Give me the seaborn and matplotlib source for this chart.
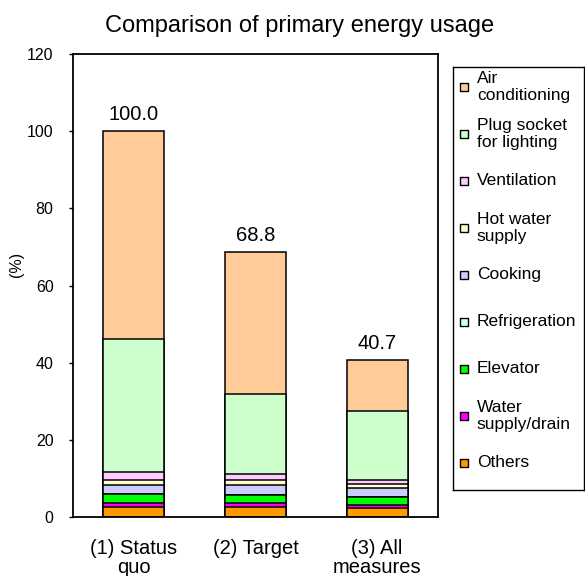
import numpy as np
import pandas as pd
import seaborn as sns
import matplotlib.pyplot as plt

# scenarios on the x axis
scenarios = ["(1) Status\nquo", "(2) Target", "(3) All\nmeasures"]

# end uses, legend order (top of stack first)
uses = ["Air\nconditioning", "Plug socket\nfor lighting", "Ventilation",
        "Hot water\nsupply", "Cooking", "Refrigeration", "Elevator",
        "Water\nsupply/drain", "Others"]

# share of primary energy usage (%) per end use, one value per scenario
air_conditioning = [53.9, 36.9, 13.3]
plug_lighting    = [34.5, 20.7, 17.8]
ventilation      = [2.1, 1.7, 1.1]
hot_water        = [1.2, 1.2, 1.0]
cooking          = [2.3, 2.65, 2.35]
refrigeration    = [0.05, 0.05, 0.05]
elevator         = [2.4, 2.05, 1.9]
water_supply     = [0.85, 0.85, 0.9]
others           = [2.7, 2.7, 2.3]

colors = ["#FFCC99", "#CCFFCC", "#FFCCFF", "#FFFFCC", "#CCCCFF",
          "#CCFFFF", "#00FF00", "#FF00FF", "#FF9900"]

df = pd.DataFrame(
    [air_conditioning, plug_lighting, ventilation, hot_water, cooking,
     refrigeration, elevator, water_supply, others],
    index=uses, columns=scenarios,
)
# stack from the bottom (Others) upward, then draw the tallest first
cum = df.iloc[::-1].cumsum().iloc[::-1]

sns.set_style("white")
plt.rcParams["font.family"] = ["Liberation Sans", "DejaVu Sans"]
for key in ["text.color", "axes.labelcolor", "xtick.color", "ytick.color"]:
    plt.rcParams[key] = "black"

fig = plt.figure(figsize=(5.85, 5.76), dpi=100)
ax = fig.add_axes([73 / 585, 59 / 576, 365 / 585, 463 / 576])

for use, color in zip(uses, colors):
    sns.barplot(x=scenarios, y=cum.loc[use].values, color=color, saturation=1,
                edgecolor="black", linewidth=1.1, width=0.5, ax=ax)

ax.bar_label(ax.containers[0], fmt="%.1f", padding=5, fontsize=14.5)

ax.set_xlim(-0.5, 2.5)
ax.set_ylim(0, 120)
ax.set_yticks(np.arange(0, 121, 20))
ax.tick_params(axis="y", left=True, length=3, width=1, color="black",
               labelsize=11.5, pad=11)
ax.tick_params(axis="x", bottom=False, labelsize=14.5, pad=12)
for lab in ax.get_xticklabels():
    lab.set_linespacing(1.05)
ax.set_ylabel("(%)", fontsize=11.5)
ax.yaxis.set_label_coords(-0.135, 0.546)
for sp in ax.spines.values():
    sp.set_color("black")
    sp.set_linewidth(1.3)

fig.suptitle("Comparison of primary energy usage", x=300 / 585, y=1 - 26 / 576,
             va="center", fontsize=17)

# legend box with evenly pitched entries
lax = fig.add_axes([453 / 585, 86 / 576, 131 / 585, 423 / 576])
lax.set_xlim(0, 1)
lax.set_ylim(1, 0)
lax.set_xticks([])
lax.set_yticks([])
for sp in lax.spines.values():
    sp.set_color("black")
    sp.set_linewidth(1)
ys = np.linspace(0.047, 0.936, len(uses))
lax.scatter(np.full(len(uses), 0.084), ys, marker="s", s=30, c=colors,
            edgecolors="black", linewidths=1)
for y, use in zip(ys, uses):
    lax.text(0.183, y, use, va="center", ha="left", fontsize=12.5, linespacing=1.2)

fig.savefig("out.png", dpi=100)
